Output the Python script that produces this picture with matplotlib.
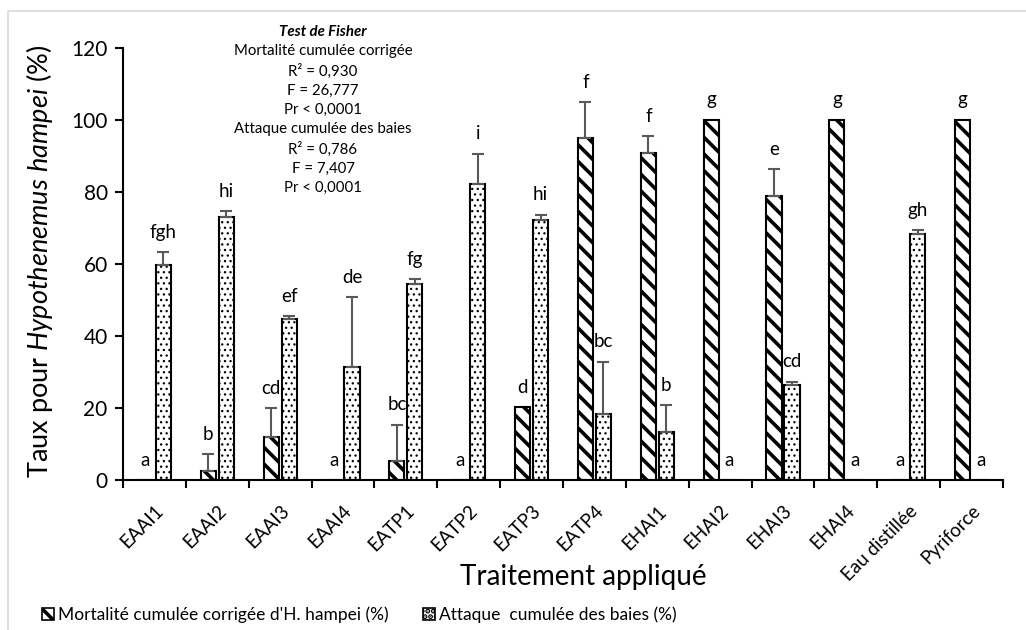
import numpy as np
import matplotlib
matplotlib.use("Agg")
import matplotlib.pyplot as plt
from matplotlib.patches import Patch, Rectangle

plt.rcParams['font.family'] = ['Lato', 'DejaVu Sans']
plt.rcParams['mathtext.fontset'] = 'custom'
plt.rcParams['mathtext.rm'] = 'Lato'
plt.rcParams['mathtext.it'] = 'Lato:italic'
plt.rcParams['hatch.linewidth'] = 2.6

traitements = ['EAAI1', 'EAAI2', 'EAAI3', 'EAAI4', 'EATP1', 'EATP2', 'EATP3',
               'EATP4', 'EHAI1', 'EHAI2', 'EHAI3', 'EHAI4', 'Eau distillée', 'Pyriforce']

# mortalite cumulee corrigee (%) et ecart-type
mortalite = [0, 2.6, 12.0, 0, 5.4, 0, 20.2, 95.0, 90.8, 100, 78.8, 100, 0, 100]
mortalite_err = [0, 4.6, 8.0, 0, 9.9, 0, 0, 9.8, 4.6, 0, 7.4, 0, 0, 0]
lettres_mort = ['a', 'b', 'cd', 'a', 'bc', 'a', 'd', 'f', 'f', 'g', 'e', 'g', 'a', 'g']

# attaque cumulee des baies (%) et ecart-type
attaque = [59.8, 73.0, 44.8, 31.4, 54.5, 82.2, 72.1, 18.2, 13.4, 0, 26.3, 0, 68.2, 0]
attaque_err = [3.5, 1.6, 0.7, 19.3, 1.3, 8.4, 1.5, 14.6, 7.4, 0, 1.0, 0, 1.1, 0]
lettres_att = ['fgh', 'hi', 'ef', 'de', 'fg', 'i', 'hi', 'bc', 'b', 'a', 'cd', 'a', 'gh', 'a']

stats_txt = ["Mortalité cumulée corrigée", "R² = 0,930", "F = 26,777", "Pr < 0,0001",
             "Attaque cumulée des baies", "R² = 0,786", "F = 7,407", "Pr < 0,0001"]


def fine_dots(patches, lw=0.9):
    # points fins pour la serie "attaque"
    for p in patches:
        if hasattr(p, 'set_hatch_linewidth'):
            p.set_hatch_linewidth(lw)


fig = plt.figure(figsize=(10.26, 6.3), dpi=100)
ax = fig.add_axes([0.1199, 0.2381, 0.8577, 0.6862])

# cadre du graphique
fig.patches.append(Rectangle((8 / 1026, -0.1), 1.2, 1 - 11 / 630 + 0.1,
                             transform=fig.transFigure, fill=False,
                             edgecolor='#d9d9d9', lw=1.2))

x = np.arange(len(traitements))
w = 0.24
off = 0.143

ax.bar(x - off, mortalite, w, facecolor='white', edgecolor='black', lw=1.5,
       hatch='\\\\', zorder=2)
b2 = ax.bar(x + off, attaque, w, facecolor='white', edgecolor='black', lw=1.5,
            hatch='...', zorder=2)
fine_dots(b2.patches)

for pos, val, err in [(x - off, mortalite, mortalite_err), (x + off, attaque, attaque_err)]:
    val = np.array(val)
    err = np.array(err)
    m = err > 0
    ax.errorbar(pos[m], val[m], yerr=[np.zeros(m.sum()), err[m]], fmt='none',
                ecolor='#595959', elinewidth=1.5, capsize=4.3, capthick=1.5, zorder=3)

for i in range(len(traitements)):
    ax.text(x[i] - off, mortalite[i] + mortalite_err[i] + 4, lettres_mort[i],
            ha='center', va='baseline', fontsize=13.5)
    ax.text(x[i] + off, attaque[i] + attaque_err[i] + 4, lettres_att[i],
            ha='center', va='baseline', fontsize=13.5)

ax.set_xlim(-0.5, len(traitements) - 0.5)
ax.set_ylim(0, 120)
ax.set_yticks(np.arange(0, 121, 20))
ax.tick_params(axis='y', labelsize=15, length=6, width=1.5, direction='out', pad=5)

ax.set_xticks(np.arange(-0.5, len(traitements), 1))
ax.set_xticklabels([])
ax.tick_params(axis='x', which='major', length=6, width=1.5, direction='out')
ax.set_xticks(x, minor=True)
ax.set_xticklabels(traitements, minor=True, rotation=45, ha='right',
                   rotation_mode='anchor', fontsize=13.5)
ax.tick_params(axis='x', which='minor', length=0, pad=16)

for s in ['top', 'right']:
    ax.spines[s].set_visible(False)
for s in ['left', 'bottom']:
    ax.spines[s].set_linewidth(1.5)

fig.text(40 / 1026, 1 - 261 / 630, 'Taux pour $\\it{Hypothenemus\\ hampei}$ (%)',
         rotation=90, ha='center', va='center', fontsize=19.5)
fig.text(583 / 1026, 1 - 577 / 630, 'Traitement appliqué', ha='center', va='center',
         fontsize=20)

fig.text(323 / 1026, 1 - 32 / 630, 'Test de Fisher', ha='center', va='center',
         fontsize=10.8, fontweight='bold', fontstyle='italic')
for k, t in enumerate(stats_txt):
    fig.text(323 / 1026, 1 - (51.5 + 19.5 * k) / 630, t, ha='center', va='center',
             fontsize=10.8)

handles = [Patch(facecolor='white', edgecolor='black', hatch='\\\\', lw=1.2),
           Patch(facecolor='white', edgecolor='black', hatch='...', lw=1.2)]
fine_dots(handles[1:])
fig.legend(handles, ["Mortalité cumulée corrigée d'H. hampei (%)",
                     "Attaque  cumulée des baies (%)"],
           loc='center left', bbox_to_anchor=(42 / 1026, 1 - 615 / 630), ncol=2,
           frameon=False, fontsize=12.5, handlelength=0.7, handleheight=0.7,
           handletextpad=0.2, columnspacing=2.0, borderpad=0, borderaxespad=0)

fig.savefig('out.png', dpi=100)
